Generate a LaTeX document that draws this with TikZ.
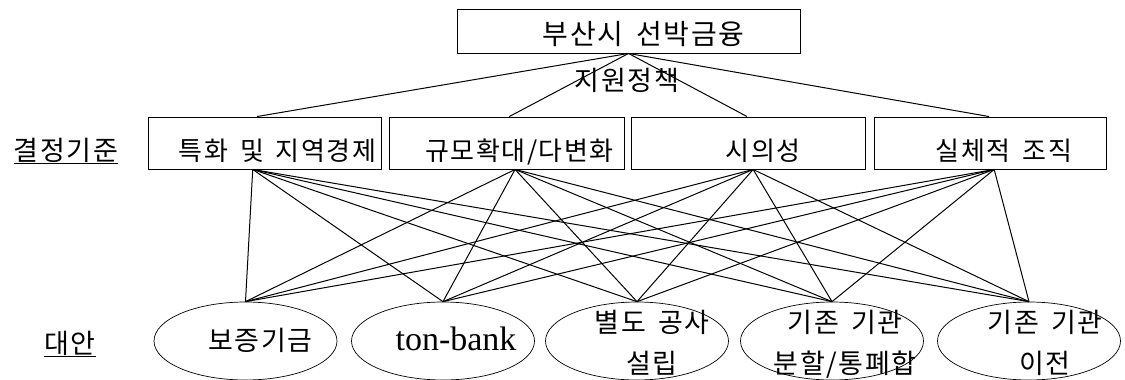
\documentclass[tikz,border=0pt]{standalone}
\usepackage{fontspec}
\setmainfont[WordSpace=1.6, LetterSpace=6]{Noto Sans CJK KR}
\newfontfamily\latinserif{Liberation Serif}
\usetikzlibrary{shapes.geometric}
\tikzset{
  link/.style={draw=black, line width=1pt},
  goalbox/.style={draw=black, line width=0.9pt, minimum width=343pt, minimum height=44pt,
                  inner sep=0pt, font=\fontsize{28}{34}\selectfont},
  critbox/.style={draw=black, line width=0.9pt, minimum height=52pt, inner sep=0pt,
                  font=\fontsize{26}{31}\selectfont},
  altnode/.style={ellipse, draw=black, line width=0.7pt, minimum width=183pt, minimum height=78pt,
                  inner sep=0pt, font=\fontsize{27}{41}\selectfont},
  sidelabel/.style={font=\fontsize{27}{32}\selectfont, inner sep=0pt}
}
% text set off the centre of its node without resizing it: #1 twice the shift to the right, #2 the lift
\newcommand{\offtext}[3]{\makebox[0pt]{\raisebox{#2}[0pt][0pt]{\hspace*{#1}\begin{tabular}{@{}c@{}}#3\end{tabular}}}}

\begin{document}
\begin{tikzpicture}[x=1pt, y=-1pt]
  \useasboundingbox (0,0) rectangle (1125,380);

  % goal
  \node[goalbox] (goal) at (628.5,31) {\offtext{30pt}{-12.5pt}{부산시 선박금융}};
  \node[sidelabel] (goalsub) at (627,80) {지원정책};

  % criteria
  \node[sidelabel] (critlabel) at (66,151) {\underline{결정기준}};
  \node[critbox, minimum width=233pt] (c1) at (264.5,143) {\offtext{26pt}{-18pt}{특화 및 지역경제}};
  \node[critbox, minimum width=235pt] (c2) at (506.5,143) {\offtext{26pt}{-18pt}{규모확대/다변화}};
  \node[critbox, minimum width=234pt] (c3) at (748,143) {\offtext{30pt}{-18pt}{시의성}};
  \node[critbox, minimum width=232pt] (c4) at (990,143) {\offtext{28pt}{-18pt}{실체적 조직}};

  % alternatives
  \node[sidelabel] (altlabel) at (70,344) {\underline{대안}};
  \node[altnode] (a1) at (245.5,341) {\offtext{30pt}{-8pt}{보증기금}};
  \node[altnode] (a2) at (443,341) {\offtext{26pt}{-8pt}{\latinserif\fontsize{34}{36}\selectfont ton-bank}};
  \node[altnode] (a3) at (637,341) {\offtext{30pt}{-10pt}{별도 공사\\설립}};
  \node[altnode] (a4) at (832,341) {\offtext{26pt}{-10pt}{기존 기관\\분할/통폐합}};
  \node[altnode] (a5) at (1029,341) {\offtext{32pt}{-10pt}{기존 기관\\이전}};

  % connection points on the criteria boxes
  \coordinate (c1t) at (c1.106);
  \coordinate (c2t) at (c2.84);
  \coordinate (c3t) at (c3.92);
  \coordinate (c4t) at (c4.92);
  \coordinate (c1b) at (c1.246);
  \coordinate (c2b) at (c2.288);
  \coordinate (c3b) at (c3.281);
  \coordinate (c4b) at (c4.279);

  \foreach \c in {c1,c2,c3,c4}
    \draw[link] (goal.south) -- (\c t);

  \foreach \c in {c1,c2,c3,c4}
    \foreach \a in {a1,a2,a3,a4,a5}
      \draw[link] (\c b) -- (\a.north);
\end{tikzpicture}
\end{document}
